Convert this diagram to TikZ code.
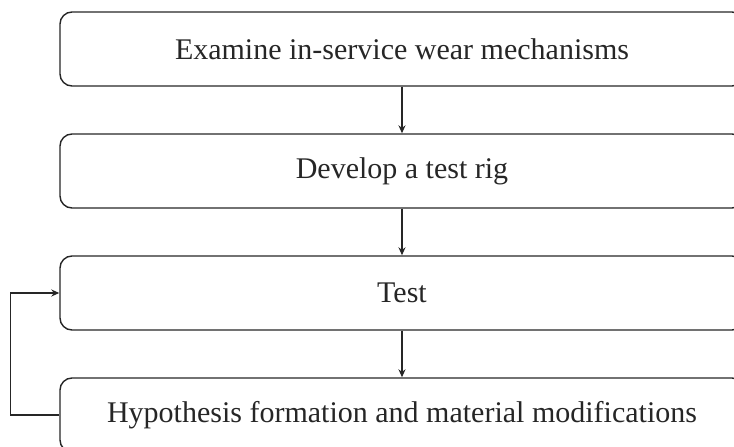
\documentclass[tikz,border=0pt]{standalone}
\usepackage{fontspec}
\setmainfont{Liberation Serif}
\usetikzlibrary{arrows.meta}
\begin{document}
\begin{tikzpicture}[x=1pt,y=-1pt,
  stepbox/.style={draw=black!85, line width=1.4pt, rounded corners=12pt,
    minimum width=684pt, minimum height=74pt, inner sep=0pt,
    font=\fontsize{30}{35}\selectfont, text=black!85},
  arr/.style={draw=black!85, line width=1.3pt, -{Stealth[length=8pt,width=7pt]}}]
  \clip (0,0) rectangle (734,447);
  \useasboundingbox (0,0) rectangle (734,447);
  \node[stepbox] (b1) at (402,49)  {Examine in-service wear mechanisms};
  \node[stepbox] (b2) at (402,171) {Develop a test rig};
  \node[stepbox] (b3) at (402,293) {Test};
  \node[stepbox] (b4) at (402,415) {Hypothesis formation and material modifications};
  \draw[arr] (b1.south) -- (b2.north);
  \draw[arr] (b2.south) -- (b3.north);
  \draw[arr] (b3.south) -- (b4.north);
  \draw[arr] (b4.west) -- ++(-49,0) |- (b3.west);
\end{tikzpicture}
\end{document}
